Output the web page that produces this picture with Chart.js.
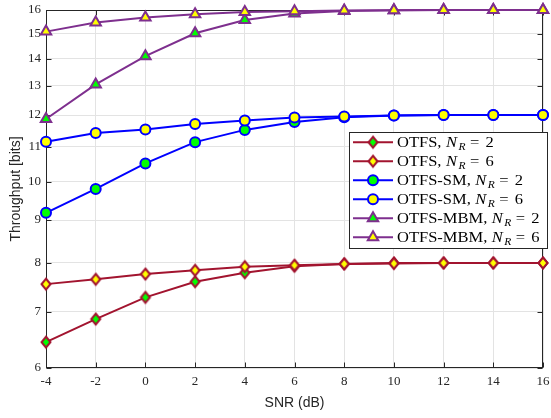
<!DOCTYPE html>
<html>
<head>
<meta charset="utf-8">
<script src="https://cdn.jsdelivr.net/npm/chart.js@4/dist/chart.umd.min.js"></script>
<style>
  html, body { margin: 0; padding: 0; background: #fff; }
  canvas { display: block; }
</style>
</head>
<body>
<canvas id="c" width="551" height="418"></canvas>
<script>
// ---- data ----
const snr = [-4, -2, 0, 2, 4, 6, 8, 10, 12, 14, 16];
const xTicks = [-4, -2, 0, 2, 4, 6, 8, 10, 12, 14, 16];
const yTicks = [6, 7, 8, 9, 10, 11, 12, 13, 14, 15, 16];
const otfsNR2 = [6.44, 6.86, 7.28, 7.60, 7.79, 7.93, 7.98, 8.00, 8.00, 8.00, 8.00];
const otfsNR6 = [7.55, 7.65, 7.76, 7.84, 7.92, 7.95, 7.98, 7.99, 8.00, 8.00, 8.00];
const smNR2 = [9.18, 9.80, 10.51, 11.14, 11.52, 11.77, 11.93, 11.98, 12.00, 12.00, 12.00];
const smNR6 = [11.15, 11.42, 11.53, 11.71, 11.82, 11.92, 11.95, 11.98, 12.00, 12.00, 12.00];
const mbmNR2 = [11.87, 13.05, 14.10, 15.01, 15.57, 15.85, 15.96, 15.99, 16.00, 16.00, 16.00];
const mbmNR6 = [15.08, 15.46, 15.67, 15.82, 15.91, 15.94, 15.98, 15.99, 16.00, 16.00, 16.00];
const seriesNames = ['OTFS,', 'OTFS,', 'OTFS-SM,', 'OTFS-SM,', 'OTFS-MBM,', 'OTFS-MBM,'];
const seriesNR = ['2', '6', '2', '6', '2', '6'];

// ---- styles ----
const RED = '#A2142F', BLUE = '#0000FF', PURPLE = '#7E2F8E';
const GREEN = '#00FF00', YELLOW = '#FFFF00';
const AX = '#262626';
const SERIF = '"Liberation Serif", "Times New Roman", serif';
const SANS = '"Liberation Sans", Arial, sans-serif';

function diamondImg(fill, stroke) {
  const c = document.createElement('canvas');
  c.width = 14; c.height = 16;
  const g = c.getContext('2d');
  g.beginPath();
  g.moveTo(7, 2.5); g.lineTo(11.5, 8); g.lineTo(7, 13.5); g.lineTo(2.5, 8); g.closePath();
  g.fillStyle = fill; g.fill();
  g.lineWidth = 2; g.strokeStyle = stroke; g.stroke();
  return c;
}

const styles = [
  {color: RED, fill: GREEN, shape: 'diamond'},
  {color: RED, fill: YELLOW, shape: 'diamond'},
  {color: BLUE, fill: GREEN, shape: 'circle'},
  {color: BLUE, fill: YELLOW, shape: 'circle'},
  {color: PURPLE, fill: GREEN, shape: 'triangle'},
  {color: PURPLE, fill: YELLOW, shape: 'triangle'}
];
styles.forEach(s => { if (s.shape === 'diamond') s.img = diamondImg(s.fill, s.color); });

const allSeries = [otfsNR2, otfsNR6, smNR2, smNR6, mbmNR2, mbmNR6];
const datasets = allSeries.map((vals, i) => {
  const s = styles[i];
  return {
    label: seriesNames[i] + ' N_R = ' + seriesNR[i],
    data: snr.map((x, k) => ({x: x, y: vals[k]})),
    borderColor: s.color,
    borderWidth: 2,
    backgroundColor: s.fill,
    pointBackgroundColor: s.fill,
    pointBorderColor: s.color,
    pointBorderWidth: 2,
    pointStyle: s.shape === 'diamond' ? s.img : s.shape,
    pointRadius: s.shape === 'triangle' ? 6 : 5,
    tension: 0,
    clip: false,
    order: 5 - i
  };
});

function txt(ctx, s, x, y, font) {
  ctx.save();
  ctx.font = font;
  ctx.translate(x, y);
  ctx.scale(1.1, 1);
  ctx.fillText(s, 0, 0);
  const w = ctx.measureText(s).width * 1.1;
  ctx.restore();
  return w;
}

const boxPlugin = {
  id: 'matlabBox',
  beforeDatasetsDraw(chart) {
    const {ctx, chartArea: a, scales} = chart;
    ctx.save();
    ctx.strokeStyle = AX;
    ctx.lineWidth = 1;
    const L = Math.round(a.left) + 0.5, R = Math.round(a.right) - 0.5;
    const T = Math.round(a.top) + 0.5, B = Math.round(a.bottom) - 0.5;
    ctx.strokeRect(L, T, R - L, B - T);
    ctx.beginPath();
    xTicks.forEach(v => {
      const px = Math.round(scales.x.getPixelForValue(v)) + 0.5;
      ctx.moveTo(px, B); ctx.lineTo(px, B - 5);
      ctx.moveTo(px, T); ctx.lineTo(px, T + 5);
    });
    yTicks.forEach(v => {
      const py = Math.round(scales.y.getPixelForValue(v)) + 0.5;
      ctx.moveTo(L, py); ctx.lineTo(L + 5, py);
      ctx.moveTo(R, py); ctx.lineTo(R - 5, py);
    });
    ctx.stroke();
    ctx.restore();
  },
  afterDraw(chart) {
    const ctx = chart.ctx;
    ctx.save();
    // legend box
    const bx = 349.5, by = 132.5, bw = 198, bh = 116;
    ctx.fillStyle = '#fff';
    ctx.fillRect(bx, by, bw, bh);
    ctx.strokeStyle = AX;
    ctx.lineWidth = 1;
    ctx.strokeRect(bx, by, bw, bh);
    for (let i = 0; i < 6; i++) {
      const s = styles[i];
      const yc = 142.3 + i * 19;
      // line sample
      ctx.beginPath();
      ctx.strokeStyle = s.color;
      ctx.lineWidth = 2;
      ctx.moveTo(353, yc); ctx.lineTo(393, yc);
      ctx.stroke();
      // marker
      const mx = 373;
      if (s.shape === 'diamond') {
        ctx.drawImage(s.img, mx - s.img.width / 2, yc - s.img.height / 2);
      } else {
        ctx.beginPath();
        if (s.shape === 'circle') {
          ctx.arc(mx, yc, 5, 0, Math.PI * 2);
        } else {
          const r = 6;
          for (let k = 0; k < 3; k++) {
            const ang = k * 2 * Math.PI / 3;
            const px = mx + Math.sin(ang) * r, py = yc - Math.cos(ang) * r;
            if (k === 0) ctx.moveTo(px, py); else ctx.lineTo(px, py);
          }
          ctx.closePath();
        }
        ctx.fillStyle = s.fill; ctx.fill();
        ctx.lineWidth = 2; ctx.strokeStyle = s.color; ctx.stroke();
      }
      // text
      const base = yc + 4.7;
      ctx.fillStyle = '#000';
      ctx.textBaseline = 'alphabetic';
      ctx.textAlign = 'left';
      const x0 = 397;
      const wPre = txt(ctx, seriesNames[i], x0, base, '15px ' + SERIF);
      const xN = x0 + wPre + 4.5;
      txt(ctx, 'N', xN, base, 'italic 15px ' + SERIF);
      txt(ctx, 'R', xN + 12.5, base + 3, 'italic 10.5px ' + SERIF);
      txt(ctx, '=', xN + 24, base, '15px ' + SERIF);
      txt(ctx, seriesNR[i], xN + 39.5, base, '15px ' + SERIF);
    }
    ctx.restore();
  }
};

new Chart(document.getElementById('c'), {
  type: 'line',
  data: { datasets: datasets },
  plugins: [boxPlugin],
  options: {
    responsive: false,
    devicePixelRatio: 1,
    animation: false,
    layout: { padding: { left: 0, right: 5, top: 10, bottom: 0 } },
    plugins: { legend: { display: false }, tooltip: { enabled: false } },
    scales: {
      x: {
        type: 'linear',
        min: -4, max: 16,
        afterBuildTicks(s) { s.ticks = xTicks.map(v => ({value: v})); },
        afterFit(s) { s.height = 50; s.paddingLeft = 0; s.paddingRight = 0; },
        ticks: {
          callback: v => String(v),
          font: { family: SERIF, size: 13 },
          color: AX,
          padding: 6,
          maxRotation: 0,
          autoSkip: false
        },
        grid: { color: '#e3e3e3', lineWidth: 1, drawTicks: false },
        border: { display: false },
        title: {
          display: true, text: 'SNR (dB)',
          font: { family: SANS, size: 14 },
          color: AX,
          padding: { top: 0, bottom: 6 }
        }
      },
      y: {
        type: 'logarithmic',
        min: 6, max: 16,
        afterBuildTicks(s) { s.ticks = yTicks.map(v => ({value: v})); },
        afterFit(s) { s.width = 46; s.paddingTop = 0; s.paddingBottom = 0; },
        ticks: {
          callback: v => String(v),
          font: { family: SERIF, size: 13 },
          color: AX,
          padding: 5,
          autoSkip: false
        },
        grid: { color: '#e3e3e3', lineWidth: 1, drawTicks: false },
        border: { display: false },
        title: {
          display: true, text: 'Throughput [bits]',
          font: { family: SANS, size: 14 },
          color: AX,
          padding: { top: 8, bottom: 0 }
        }
      }
    }
  }
});
</script>
</body>
</html>
